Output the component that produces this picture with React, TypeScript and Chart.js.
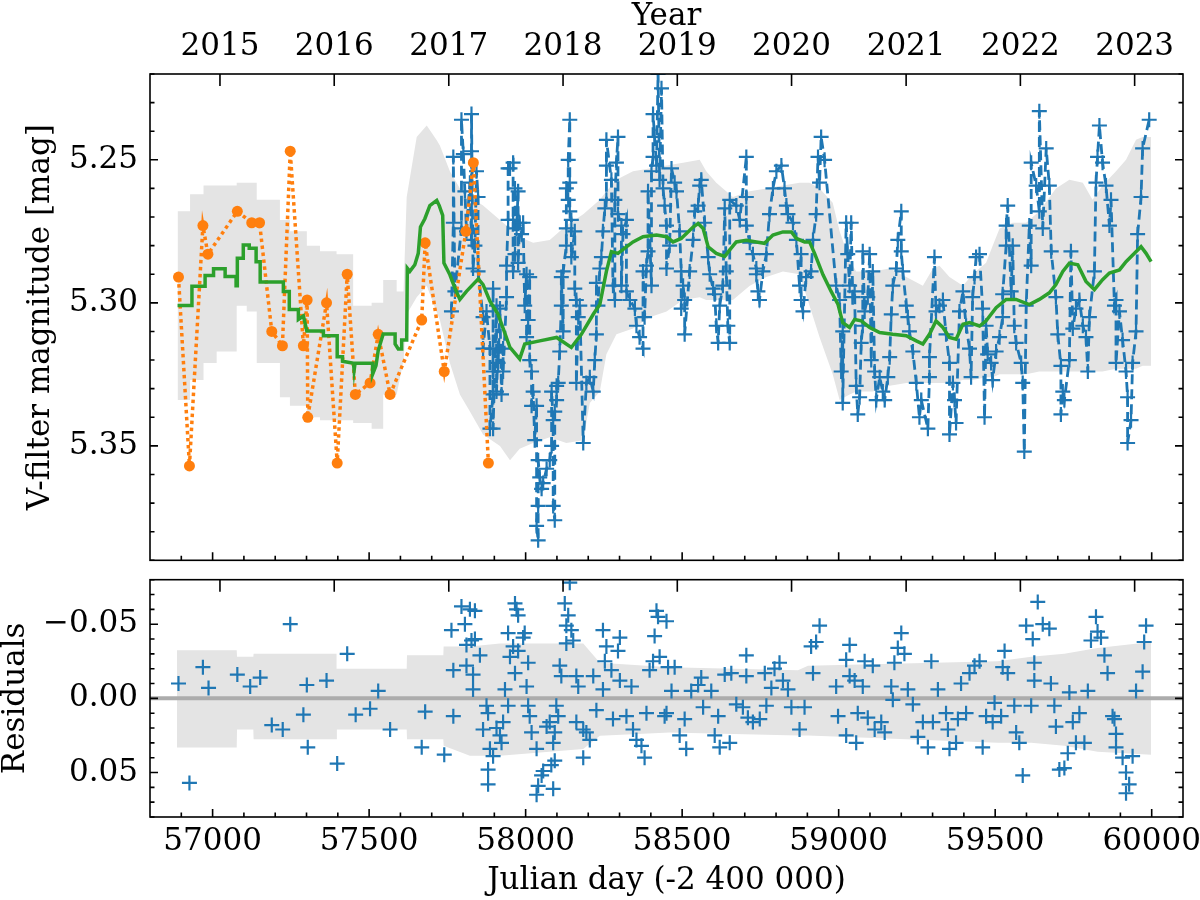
import { useEffect, useRef } from "react"
import { Chart, registerables } from "chart.js"

Chart.register(...registerables)
Chart.defaults.font.family = "'DejaVu Serif', serif"
Chart.defaults.color = "#000"

const X_MIN = 56800
const X_MAX = 60100
const jdTicks = [57000, 57500, 58000, 58500, 59000, 59500, 60000]
const yearLabels = ["2015", "2016", "2017", "2018", "2019", "2020", "2021", "2022", "2023"]
const yearJd = [57023.5, 57388.5, 57754.5, 58119.5, 58484.5, 58849.5, 59215.5, 59580.5, 59945.5]
const magTicks = [5.25, 5.3, 5.35]
const residTicks = [-0.05, 0, 0.05]

const BLUE = "#1f77b4"
const ORANGE = "#ff7f0e"
const GREEN = "#2ca02c"
const BAND = "#e4e4e4"

// older photometry (orange, dotted)
const orangeObs = [
  [56891, 5.291], [56926, 5.357], [56969, 5.273], [56985, 5.283], [57079, 5.268], [57125, 5.272],
  [57150, 5.272], [57189, 5.31], [57223, 5.315], [57248, 5.247], [57290, 5.315], [57302, 5.299],
  [57304, 5.34], [57364, 5.3], [57398, 5.356], [57430, 5.29], [57456, 5.332], [57503, 5.328],
  [57529, 5.311], [57567, 5.332], [57668, 5.306], [57679, 5.279], [57740, 5.324], [57809, 5.275],
  [57833, 5.251], [57881, 5.356],
]

// newer photometry (blue, dashed)
const blueObs = [
  [57763, 5.303], [57769, 5.272], [57769, 5.249], [57774, 5.296], [57795, 5.274], [57795, 5.236],
  [57801, 5.248], [57806, 5.261], [57811, 5.275], [57822, 5.258], [57827, 5.278], [57827, 5.247],
  [57827, 5.234], [57832, 5.288], [57838, 5.28], [57843, 5.254], [57848, 5.263], [57848, 5.289],
  [57864, 5.305], [57864, 5.316], [57875, 5.303], [57886, 5.316], [57886, 5.344], [57896, 5.332],
  [57896, 5.324], [57896, 5.295], [57896, 5.344], [57907, 5.301], [57907, 5.331], [57912, 5.316],
  [57912, 5.321], [57918, 5.302], [57923, 5.332], [57928, 5.316], [57928, 5.324], [57939, 5.298],
  [57939, 5.287], [57944, 5.271], [57944, 5.253], [57950, 5.253], [57960, 5.251], [57960, 5.271],
  [57960, 5.289], [57966, 5.283], [57966, 5.26], [57971, 5.274], [57976, 5.261], [57976, 5.286],
  [57981, 5.272], [57987, 5.276], [57992, 5.272], [57997, 5.301], [58003, 5.29], [58003, 5.312],
  [58008, 5.306], [58013, 5.291], [58013, 5.32], [58019, 5.324], [58019, 5.336], [58024, 5.331],
  [58029, 5.348], [58035, 5.336], [58035, 5.378], [58040, 5.383], [58040, 5.371], [58040, 5.355],
  [58045, 5.361], [58051, 5.365], [58056, 5.363], [58067, 5.358], [58077, 5.355], [58083, 5.35],
  [58083, 5.331], [58088, 5.341], [58088, 5.371], [58093, 5.376], [58093, 5.338], [58099, 5.334],
  [58099, 5.329], [58104, 5.328], [58109, 5.317], [58114, 5.301], [58114, 5.291], [58120, 5.31],
  [58120, 5.289], [58130, 5.28], [58130, 5.274], [58130, 5.26], [58136, 5.264], [58136, 5.25],
  [58141, 5.236], [58141, 5.258], [58141, 5.268], [58146, 5.271], [58146, 5.284], [58157, 5.275],
  [58157, 5.295], [58162, 5.299], [58162, 5.328], [58168, 5.305], [58173, 5.301], [58184, 5.349],
  [58194, 5.328], [58205, 5.326], [58216, 5.331], [58221, 5.32], [58226, 5.311], [58226, 5.293],
  [58231, 5.301], [58237, 5.288], [58242, 5.284], [58247, 5.275], [58253, 5.267], [58258, 5.264],
  [58258, 5.252], [58258, 5.243], [58274, 5.257], [58279, 5.294], [58285, 5.299], [58285, 5.264],
  [58290, 5.251], [58295, 5.242], [58295, 5.269], [58306, 5.273], [58306, 5.294], [58311, 5.276],
  [58322, 5.271], [58322, 5.296], [58333, 5.299], [58349, 5.302], [58354, 5.308], [58364, 5.312],
  [58375, 5.316], [58375, 5.289], [58380, 5.305], [58386, 5.287], [58391, 5.282], [58391, 5.261],
  [58402, 5.294], [58402, 5.254], [58407, 5.249], [58407, 5.234], [58412, 5.242], [58418, 5.252],
  [58423, 5.22], [58428, 5.257], [58434, 5.225], [58439, 5.26], [58444, 5.266], [58450, 5.273],
  [58450, 5.288], [58460, 5.28], [58466, 5.253], [58476, 5.258], [58482, 5.261], [58492, 5.275],
  [58497, 5.289], [58497, 5.302], [58503, 5.294], [58508, 5.299], [58508, 5.311], [58524, 5.289],
  [58535, 5.278], [58540, 5.268], [58551, 5.266], [58556, 5.259], [58561, 5.257], [58572, 5.272],
  [58583, 5.284], [58588, 5.29], [58599, 5.295], [58604, 5.297], [58609, 5.308], [58615, 5.314],
  [58620, 5.301], [58630, 5.294], [58636, 5.267], [58641, 5.289], [58646, 5.308], [58652, 5.314],
  [58652, 5.264], [58673, 5.266], [58684, 5.271], [58705, 5.249], [58705, 5.263], [58705, 5.273],
  [58716, 5.279], [58726, 5.283], [58737, 5.288], [58737, 5.29], [58742, 5.296], [58747, 5.299],
  [58758, 5.289], [58769, 5.283], [58779, 5.269], [58790, 5.26], [58801, 5.254], [58817, 5.252],
  [58827, 5.26], [58833, 5.266], [58838, 5.269], [58854, 5.272], [58865, 5.278], [58875, 5.294],
  [58880, 5.283], [58880, 5.299], [58886, 5.303], [58896, 5.291], [58912, 5.289], [58918, 5.278],
  [58928, 5.269], [58934, 5.249], [58939, 5.258], [58944, 5.242], [58955, 5.25], [58992, 5.294],
  [59003, 5.299], [59008, 5.324], [59013, 5.31], [59013, 5.335], [59024, 5.272], [59029, 5.283],
  [59035, 5.294], [59040, 5.272], [59045, 5.298], [59051, 5.296], [59056, 5.329], [59061, 5.339],
  [59067, 5.333], [59072, 5.314], [59077, 5.308], [59077, 5.282], [59083, 5.303], [59093, 5.298],
  [59099, 5.283], [59104, 5.32], [59109, 5.289], [59115, 5.324], [59120, 5.334], [59131, 5.326],
  [59141, 5.331], [59147, 5.334], [59157, 5.326], [59163, 5.319], [59168, 5.304], [59173, 5.294],
  [59184, 5.288], [59189, 5.278], [59200, 5.268], [59200, 5.282], [59205, 5.289], [59216, 5.301],
  [59221, 5.305], [59226, 5.31], [59237, 5.317], [59248, 5.328], [59258, 5.34], [59264, 5.334],
  [59285, 5.344], [59290, 5.326], [59290, 5.319], [59306, 5.284], [59311, 5.303], [59322, 5.301],
  [59333, 5.299], [59343, 5.311], [59354, 5.321], [59354, 5.346], [59365, 5.328], [59370, 5.334],
  [59375, 5.342], [59386, 5.303], [59397, 5.296], [59407, 5.308], [59418, 5.316], [59423, 5.326],
  [59428, 5.298], [59434, 5.291], [59439, 5.284], [59450, 5.283], [59460, 5.302], [59466, 5.34],
  [59471, 5.308], [59476, 5.318], [59487, 5.321], [59492, 5.327], [59503, 5.317], [59514, 5.312],
  [59524, 5.305], [59524, 5.297], [59535, 5.28], [59535, 5.273], [59540, 5.266], [59551, 5.296],
  [59556, 5.28], [59561, 5.308], [59567, 5.314], [59583, 5.321], [59588, 5.328], [59593, 5.352],
  [59599, 5.301], [59609, 5.273], [59615, 5.287], [59615, 5.251], [59631, 5.259], [59641, 5.268],
  [59641, 5.233], [59652, 5.274], [59663, 5.246], [59673, 5.259], [59679, 5.282], [59694, 5.298],
  [59700, 5.311], [59710, 5.322], [59710, 5.339], [59716, 5.331], [59721, 5.334], [59737, 5.32],
  [59742, 5.282], [59748, 5.309], [59758, 5.302], [59769, 5.299], [59780, 5.308], [59790, 5.312],
  [59796, 5.324], [59801, 5.305], [59817, 5.289], [59822, 5.258], [59827, 5.249], [59833, 5.238],
  [59843, 5.251], [59854, 5.259], [59865, 5.273], [59870, 5.264], [59881, 5.301], [59886, 5.299],
  [59886, 5.321], [59897, 5.303], [59907, 5.313], [59918, 5.324], [59923, 5.333], [59923, 5.349],
  [59934, 5.341], [59939, 5.321], [59950, 5.31], [59955, 5.276], [59966, 5.263], [59971, 5.246],
  [59992, 5.236],
]

// model curve (green)
const modelCurve = [
  [56888, 5.3009], [56934, 5.3009], [56934, 5.2942], [56976, 5.2942], [56976, 5.2904], [57003, 5.2904],
  [57003, 5.2881], [57040, 5.2881], [57040, 5.2908], [57075, 5.2908], [57075, 5.294], [57079, 5.294],
  [57079, 5.2844], [57098, 5.2844], [57098, 5.2798], [57117, 5.2798], [57117, 5.2809], [57139, 5.2809],
  [57139, 5.2856], [57152, 5.2856], [57152, 5.2927], [57226, 5.2927], [57226, 5.296], [57245, 5.296],
  [57245, 5.3023], [57274, 5.3023], [57274, 5.3058], [57290, 5.3046], [57301, 5.3098], [57354, 5.3098],
  [57354, 5.3115], [57398, 5.3115], [57398, 5.3188], [57415, 5.3188], [57415, 5.3204], [57450, 5.3211],
  [57452, 5.3236], [57455, 5.3211], [57511, 5.3211], [57511, 5.325], [57522, 5.3219], [57529, 5.3167],
  [57545, 5.3109], [57583, 5.3109], [57583, 5.3144], [57593, 5.3161], [57604, 5.3161], [57604, 5.313],
  [57620, 5.313], [57622, 5.2879], [57630, 5.289], [57646, 5.2867], [57657, 5.2827], [57664, 5.2735],
  [57678, 5.2706], [57694, 5.266], [57716, 5.2642], [57724, 5.266], [57735, 5.2694], [57739, 5.2861],
  [57758, 5.2902], [57774, 5.2948], [57790, 5.2988], [57811, 5.296], [57849, 5.2916], [57864, 5.2936],
  [57886, 5.2994], [57912, 5.304], [57950, 5.3156], [57981, 5.3196], [57997, 5.3144], [58045, 5.3133],
  [58099, 5.3121], [58146, 5.3156], [58178, 5.311], [58216, 5.304], [58237, 5.3006], [58258, 5.289],
  [58274, 5.2821], [58295, 5.2827], [58322, 5.2804], [58343, 5.2787], [58375, 5.2769], [58418, 5.2763],
  [58450, 5.2769], [58471, 5.2787], [58497, 5.2775], [58535, 5.2735], [58551, 5.2723], [58567, 5.274],
  [58583, 5.2804], [58609, 5.2827], [58636, 5.2838], [58652, 5.2815], [58673, 5.2787], [58705, 5.2781],
  [58737, 5.2787], [58763, 5.2792], [58790, 5.2763], [58822, 5.2752], [58849, 5.2752], [58865, 5.2775],
  [58891, 5.2787], [58907, 5.2787], [58923, 5.2827], [58950, 5.2902], [58976, 5.296], [58998, 5.3006],
  [59013, 5.3069], [59035, 5.3086], [59051, 5.3058], [59072, 5.3063], [59099, 5.3086], [59131, 5.3104],
  [59173, 5.311], [59216, 5.3115], [59248, 5.3133], [59269, 5.3144], [59290, 5.311], [59311, 5.3063],
  [59333, 5.3086], [59354, 5.3121], [59375, 5.3127], [59397, 5.3075], [59418, 5.3069], [59450, 5.3081],
  [59471, 5.3063], [59503, 5.3017], [59535, 5.2988], [59567, 5.2988], [59609, 5.3006], [59641, 5.2988],
  [59673, 5.2965], [59694, 5.2936], [59716, 5.289], [59737, 5.2861], [59764, 5.2867], [59790, 5.2925],
  [59817, 5.2954], [59843, 5.2919], [59865, 5.2896], [59897, 5.2885], [59918, 5.2856], [59945, 5.2827],
  [59966, 5.2804], [59982, 5.2827], [59998, 5.2856],
]

// model uncertainty band: [jd, bright edge, faint edge]
const modelBand = [
  [56888, 5.268, 5.334], [56928, 5.268, 5.334], [56928, 5.262, 5.327], [56971, 5.262, 5.327],
  [56971, 5.259, 5.321], [57013, 5.259, 5.321], [57013, 5.259, 5.317], [57077, 5.259, 5.317],
  [57077, 5.258, 5.301], [57109, 5.258, 5.301], [57109, 5.258, 5.303], [57141, 5.258, 5.303],
  [57141, 5.264, 5.321], [57215, 5.264, 5.321], [57215, 5.271, 5.333], [57247, 5.271, 5.333],
  [57247, 5.275, 5.336], [57301, 5.275, 5.336], [57301, 5.28, 5.34], [57343, 5.28, 5.34],
  [57343, 5.282, 5.341], [57396, 5.282, 5.341], [57396, 5.283, 5.341], [57449, 5.283, 5.341],
  [57449, 5.301, 5.342], [57508, 5.301, 5.342], [57508, 5.3, 5.344], [57545, 5.3, 5.344],
  [57545, 5.292, 5.332], [57588, 5.292, 5.332], [57588, 5.296, 5.332], [57610, 5.296, 5.32],
  [57620, 5.263, 5.304], [57652, 5.242, 5.298], [57684, 5.238, 5.294], [57715, 5.243, 5.303],
  [57726, 5.245, 5.306], [57758, 5.254, 5.321], [57790, 5.26, 5.332], [57822, 5.263, 5.338],
  [57864, 5.266, 5.346], [57918, 5.271, 5.35], [57950, 5.274, 5.355], [57981, 5.277, 5.351],
  [58024, 5.279, 5.349], [58077, 5.278, 5.347], [58130, 5.273, 5.349], [58184, 5.269, 5.348],
  [58205, 5.267, 5.335], [58237, 5.264, 5.331], [58258, 5.261, 5.318], [58290, 5.257, 5.311],
  [58343, 5.254, 5.309], [58396, 5.253, 5.305], [58450, 5.252, 5.303], [58503, 5.251, 5.299],
  [58556, 5.25, 5.298], [58577, 5.254, 5.299], [58609, 5.258, 5.299], [58662, 5.263, 5.299],
  [58716, 5.261, 5.294], [58769, 5.26, 5.291], [58822, 5.259, 5.289], [58875, 5.258, 5.29],
  [58907, 5.258, 5.301], [58939, 5.26, 5.312], [58981, 5.265, 5.325], [59003, 5.275, 5.334],
  [59035, 5.285, 5.332], [59056, 5.289, 5.331], [59109, 5.289, 5.331], [59163, 5.288, 5.329],
  [59216, 5.291, 5.328], [59269, 5.294, 5.328], [59301, 5.288, 5.328], [59322, 5.287, 5.328],
  [59354, 5.291, 5.328], [59397, 5.294, 5.327], [59428, 5.29, 5.327], [59471, 5.286, 5.326],
  [59492, 5.28, 5.326], [59514, 5.274, 5.325], [59556, 5.272, 5.325], [59599, 5.272, 5.325],
  [59641, 5.268, 5.324], [59694, 5.26, 5.324], [59737, 5.257, 5.324], [59780, 5.258, 5.324],
  [59811, 5.264, 5.324], [59843, 5.259, 5.324], [59886, 5.254, 5.323], [59918, 5.25, 5.323],
  [59950, 5.243, 5.323], [59971, 5.242, 5.322], [59998, 5.242, 5.322],
]

// residuals (observed - model)
const residuals = [
  [56891, -0.01], [56926, 0.057], [56969, -0.021], [56987, -0.007], [57079, -0.016], [57120, -0.008],
  [57152, -0.014], [57189, 0.018], [57224, 0.021], [57248, -0.05], [57290, 0.011], [57301, -0.009],
  [57304, 0.033], [57364, -0.012], [57398, 0.044], [57430, -0.03], [57457, 0.011], [57503, 0.007],
  [57529, -0.005], [57567, 0.021], [57668, 0.033], [57679, 0.009], [57740, 0.038], [57763, -0.046],
  [57769, 0.012], [57769, -0.019], [57795, -0.062], [57806, -0.05], [57811, -0.036], [57811, -0.022],
  [57822, -0.06], [57827, -0.039], [57832, -0.016], [57832, -0.006], [57838, -0.059], [57838, -0.04],
  [57854, -0.029], [57864, 0.021], [57875, 0.005], [57880, 0.01], [57880, 0.048], [57880, 0.058],
  [57886, 0.034], [57896, 0.039], [57907, 0.02], [57918, 0.025], [57923, 0.03], [57928, 0.016],
  [57934, -0.006], [57944, 0.005], [57944, -0.044], [57950, -0.028], [57960, -0.035], [57966, -0.064],
  [57966, -0.017], [57971, -0.06], [57976, -0.056], [57976, -0.032], [57992, -0.041], [57997, -0.044],
  [58003, -0.008], [58008, -0.024], [58008, 0.005], [58013, 0.012], [58019, 0.023], [58035, 0.034],
  [58035, 0.065], [58040, 0.059], [58051, 0.052], [58056, 0.049], [58067, 0.019], [58077, 0.016],
  [58082, 0.045], [58088, 0.061], [58088, 0.03], [58093, 0.042], [58093, 0.023], [58098, 0.005],
  [58104, 0.012], [58109, -0.022], [58114, -0.015], [58125, -0.064], [58130, -0.049], [58130, -0.037],
  [58136, -0.056], [58141, -0.078], [58146, -0.046], [58152, -0.039], [58162, -0.015], [58162, 0.016],
  [58168, -0.008], [58184, 0.021], [58184, 0.04], [58194, 0.023], [58205, 0.028], [58216, -0.015],
  [58226, 0.008], [58247, -0.006], [58247, -0.046], [58253, -0.025], [58258, -0.035], [58274, -0.019],
  [58279, 0.014], [58295, -0.032], [58301, -0.041], [58301, -0.012], [58322, 0.012], [58338, -0.008],
  [58343, 0.021], [58354, 0.028], [58370, 0.032], [58380, 0.04], [58386, 0.01], [58396, -0.019],
  [58407, -0.025], [58412, -0.042], [58418, -0.059], [58423, -0.055], [58428, -0.028], [58444, 0.012],
  [58450, -0.052], [58450, 0.01], [58455, -0.021], [58466, -0.005], [58476, -0.021], [58492, 0.025],
  [58508, 0.014], [58513, 0.034], [58529, -0.005], [58551, -0.009], [58561, -0.014], [58567, 0.006],
  [58593, -0.005], [58604, 0.025], [58615, 0.012], [58620, 0.033], [58636, -0.016], [58652, 0.03],
  [58657, -0.017], [58673, 0.004], [58694, 0.006], [58705, -0.029], [58705, -0.015], [58710, 0.013],
  [58726, 0.016], [58748, 0.014], [58764, -0.017], [58769, 0.005], [58785, -0.007], [58795, -0.02],
  [58811, -0.024], [58822, -0.012], [58838, -0.006], [58849, 0.006], [58875, 0.021], [58891, 0.006],
  [58912, -0.035], [58918, -0.017], [58928, -0.038], [58939, -0.049], [58992, -0.008], [58998, 0.012],
  [59024, 0.025], [59024, -0.026], [59035, -0.036], [59035, -0.015], [59051, -0.012], [59056, 0.03],
  [59061, 0.01], [59077, -0.008], [59083, -0.025], [59093, 0.013], [59109, -0.022], [59115, 0.021],
  [59136, 0.016], [59147, 0.023], [59168, -0.008], [59173, 0.001], [59178, -0.024], [59189, -0.034],
  [59200, -0.044], [59210, -0.03], [59221, -0.006], [59237, 0.004], [59253, 0.026], [59269, 0.016],
  [59285, 0.033], [59296, -0.025], [59301, 0.016], [59317, -0.006], [59343, 0.01], [59349, 0.021],
  [59354, 0.034], [59375, 0.03], [59381, 0.014], [59391, -0.01], [59407, 0.01], [59418, -0.017],
  [59434, -0.022], [59450, -0.025], [59460, 0.033], [59471, 0.012], [59492, 0.016], [59498, 0.003],
  [59519, 0.012], [59524, -0.021], [59530, -0.032], [59540, -0.017], [59561, 0.005], [59567, 0.023],
  [59577, 0.03], [59588, 0.052], [59599, -0.049], [59615, 0.005], [59620, -0.04], [59625, -0.024],
  [59625, -0.012], [59636, -0.065], [59652, -0.05], [59673, -0.047], [59678, -0.01], [59689, 0.005],
  [59694, 0.019], [59705, 0.048], [59721, 0.047], [59732, 0.037], [59737, -0.004], [59748, 0.016],
  [59758, 0.03], [59769, 0.01], [59785, 0.03], [59796, -0.005], [59806, -0.039], [59822, -0.055],
  [59827, -0.045], [59838, -0.041], [59849, -0.029], [59859, -0.017], [59875, 0.012], [59881, 0.014],
  [59886, 0.024], [59886, 0.033], [59907, 0.04], [59918, 0.05], [59918, 0.064], [59928, 0.058],
  [59939, 0.039], [59950, -0.005], [59971, -0.018], [59976, -0.038], [59982, -0.049],
]

// residual uncertainty band: [jd, low edge, high edge]
const residBand = [
  [56886, -0.0324, 0.0331], [57077, -0.0324, 0.0331], [57078, -0.028, 0.021], [57130, -0.028, 0.021],
  [57131, -0.03, 0.0276], [57396, -0.03, 0.0276], [57397, -0.02, 0.021], [57620, -0.02, 0.021],
  [57621, -0.029, 0.0276], [57737, -0.029, 0.0276], [57738, -0.035, 0.032], [57822, -0.035, 0.0387],
  [57918, -0.037, 0.0387], [58184, -0.037, 0.0342], [58237, -0.024, 0.0253], [58460, -0.021, 0.023],
  [58870, -0.019, 0.025], [58902, -0.022, 0.025], [59508, -0.025, 0.03], [59615, -0.028, 0.03],
  [59721, -0.03, 0.032], [59827, -0.034, 0.036], [59998, -0.038, 0.038],
]

const pts = (rows: number[][], col = 1) => rows.map((r) => ({ x: r[0], y: r[col] }))

const TICK_FONT = { size: 31, lineHeight: 1 }
const TITLE_FONT = { size: 31, lineHeight: 1 }
const NO_GRID = { display: false, drawTicks: false }

const fmt = (v: number) => Number(v).toFixed(2).replace("-", "\u2212")

// keep the plot areas exactly where the reference has them
const noPad = (s: any) => {
  s.paddingTop = 0
  s.paddingBottom = 0
  s.paddingLeft = 0
  s.paddingRight = 0
}

// frame with inward ticks on all four sides (matplotlib style)
function makeFrame(kFrom: number, kTo: number) {
  return {
    id: "frame",
    afterDraw(chart: any) {
      const { ctx, chartArea: a } = chart
      const xs = chart.scales.x
      const ys = chart.scales.y
      ctx.save()
      ctx.strokeStyle = "#000"
      ctx.lineWidth = 1.6
      ctx.beginPath()
      for (let d = X_MIN + 100; d < X_MAX; d += 100) {
        const px = xs.getPixelForValue(d)
        const len = d % 500 === 0 ? 8 : 4.5
        ctx.moveTo(px, a.bottom)
        ctx.lineTo(px, a.bottom - len)
      }
      for (const d of yearJd) {
        const px = xs.getPixelForValue(d)
        ctx.moveTo(px, a.top)
        ctx.lineTo(px, a.top + 12)
      }
      for (let k = kFrom; k <= kTo; k++) {
        const py = ys.getPixelForValue(k / 100)
        const len = k % 5 === 0 ? 8 : 4.5
        ctx.moveTo(a.left, py)
        ctx.lineTo(a.left + len, py)
        ctx.moveTo(a.right, py)
        ctx.lineTo(a.right - len, py)
      }
      ctx.stroke()
      ctx.strokeRect(a.left, a.top, a.right - a.left, a.bottom - a.top)
      ctx.restore()
    },
  }
}

export default function App() {
  const topRef = useRef<HTMLCanvasElement>(null)
  const bottomRef = useRef<HTMLCanvasElement>(null)

  useEffect(() => {
    if (!topRef.current || !bottomRef.current) return

    const top = new Chart(topRef.current, {
      type: "scatter",
      data: {
        datasets: [
          {
            data: pts(modelBand, 1),
            showLine: true,
            borderWidth: 0,
            pointRadius: 0,
            fill: false,
            order: 10,
          },
          {
            data: pts(modelBand, 2),
            showLine: true,
            borderWidth: 0,
            pointRadius: 0,
            fill: "-1",
            backgroundColor: BAND,
            order: 10,
          },
          {
            data: pts(blueObs),
            showLine: true,
            borderColor: BLUE,
            borderWidth: 2.8,
            borderDash: [10, 5],
            pointStyle: "cross",
            pointRadius: 7.5,
            pointBorderWidth: 2.2,
            pointBorderColor: BLUE,
            order: 2,
          },
          {
            data: pts(orangeObs),
            showLine: true,
            borderColor: ORANGE,
            borderWidth: 3.5,
            borderDash: [3.5, 3.5],
            pointStyle: "circle",
            pointRadius: 5.5,
            pointBorderWidth: 0,
            pointBackgroundColor: ORANGE,
            order: 1,
          },
          {
            data: pts(modelCurve),
            showLine: true,
            borderColor: GREEN,
            borderWidth: 3.5,
            pointRadius: 0,
            order: 0,
          },
        ],
      },
      options: {
        animation: false,
        responsive: false,
        events: [],
        layout: { padding: { left: 0, right: 17, top: 0, bottom: 5 } },
        plugins: { legend: { display: false }, tooltip: { enabled: false } },
        scales: {
          x: { type: "linear", min: X_MIN, max: X_MAX, display: false },
          year: {
            type: "linear",
            position: "top",
            min: X_MIN,
            max: X_MAX,
            grid: NO_GRID,
            border: { display: false },
            afterBuildTicks: (s: any) => {
              s.ticks = yearJd.map((value) => ({ value }))
            },
            afterFit: (s: any) => {
              s.height = 74
              noPad(s)
            },
            ticks: {
              autoSkip: false,
              maxRotation: 0,
              padding: 12,
              font: TICK_FONT,
              callback: (_v: any, i: number) => yearLabels[i],
            },
            title: {
              display: true,
              text: "Year",
              font: { size: 31, lineHeight: 0.9 },
              padding: { top: 3, bottom: 0 },
            },
          },
          y: {
            type: "linear",
            reverse: true,
            min: 5.22,
            max: 5.39,
            grid: NO_GRID,
            border: { display: false },
            afterBuildTicks: (s: any) => {
              s.ticks = magTicks.map((value) => ({ value }))
            },
            afterFit: (s: any) => {
              s.width = 150
              noPad(s)
            },
            ticks: { padding: 12, font: TICK_FONT, callback: (v: any) => fmt(v) },
            title: {
              display: true,
              text: "V-filter magnitude [mag]",
              font: TITLE_FONT,
              padding: { top: 25, bottom: 0 },
            },
          },
        },
      },
      plugins: [makeFrame(522, 539)],
    } as any)

    const bottom = new Chart(bottomRef.current, {
      type: "scatter",
      data: {
        datasets: [
          {
            data: pts(residBand, 1),
            showLine: true,
            borderWidth: 0,
            pointRadius: 0,
            fill: false,
            order: 10,
          },
          {
            data: pts(residBand, 2),
            showLine: true,
            borderWidth: 0,
            pointRadius: 0,
            fill: "-1",
            backgroundColor: BAND,
            order: 10,
          },
          {
            data: [
              { x: X_MIN, y: 0 },
              { x: X_MAX, y: 0 },
            ],
            showLine: true,
            borderColor: "#acacac",
            borderWidth: 4,
            pointRadius: 0,
            order: 5,
          },
          {
            data: pts(residuals),
            showLine: false,
            pointStyle: "cross",
            pointRadius: 7.5,
            pointBorderWidth: 2.2,
            pointBorderColor: BLUE,
            order: 1,
          },
        ],
      },
      options: {
        animation: false,
        responsive: false,
        events: [],
        layout: { padding: { left: 0, right: 17, top: 7, bottom: 0 } },
        plugins: { legend: { display: false }, tooltip: { enabled: false } },
        scales: {
          x: {
            type: "linear",
            min: X_MIN,
            max: X_MAX,
            grid: NO_GRID,
            border: { display: false },
            afterBuildTicks: (s: any) => {
              s.ticks = jdTicks.map((value) => ({ value }))
            },
            afterFit: (s: any) => {
              s.height = 83
              noPad(s)
            },
            ticks: {
              autoSkip: false,
              maxRotation: 0,
              padding: 9,
              font: TICK_FONT,
              callback: (v: any) => String(v),
            },
            title: {
              display: true,
              text: "Julian day (-2 400 000)",
              font: TITLE_FONT,
              padding: { top: 0, bottom: 3.5 },
            },
          },
          y: {
            type: "linear",
            reverse: true,
            min: -0.08,
            max: 0.08,
            grid: NO_GRID,
            border: { display: false },
            afterBuildTicks: (s: any) => {
              s.ticks = residTicks.map((value) => ({ value }))
            },
            afterFit: (s: any) => {
              s.width = 150
              noPad(s)
            },
            ticks: { padding: 12, font: TICK_FONT, callback: (v: any) => fmt(v) },
            title: { display: true, text: "Residuals", font: TITLE_FONT, padding: 0 },
          },
        },
      },
      plugins: [makeFrame(-8, 8)],
    } as any)

    return () => {
      top.destroy()
      bottom.destroy()
    }
  }, [])

  return (
    <div style={{ position: "absolute", left: 0, top: 0, width: 1200, height: 900, background: "#fff" }}>
      <canvas ref={topRef} width={1200} height={570} style={{ position: "absolute", left: 0, top: 0 }} />
      <canvas ref={bottomRef} width={1200} height={330} style={{ position: "absolute", left: 0, top: 570 }} />
    </div>
  )
}
